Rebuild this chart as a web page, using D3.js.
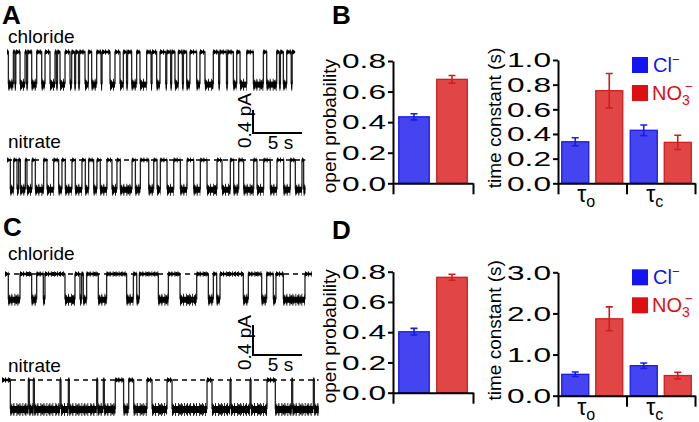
<!DOCTYPE html>
<html><head><meta charset="utf-8">
<script src="https://cdn.jsdelivr.net/npm/d3@7"></script>
<style>
body{margin:0;background:#fff}
svg text{font-family:"Liberation Sans",Arial,Helvetica,sans-serif}
</style></head><body>
<svg id="fig" width="699" height="422"></svg>
<script>
// ---------------- DATA ----------------
const anions = ["Cl", "NO3"];
const tauCategories = ["o", "c"];
const poTicks = [0, 0.2, 0.4, 0.6, 0.8];
const tauBTicks = [0, 0.2, 0.4, 0.6, 0.8, 1.0];
const tauDTicks = [0, 1, 2, 3];

const poB = [0.435, 0.68];
const poBErr = [0.02, 0.025];
const poD = [0.403, 0.763];
const poDErr = [0.022, 0.02];

const tauB_Cl = [0.337, 0.43];
const tauB_ClErr = [0.032, 0.043];
const tauB_NO3 = [0.751, 0.332];
const tauB_NO3Err = [0.14, 0.058];

const tauD_Cl = [0.52, 0.73];
const tauD_ClErr = [0.055, 0.065];
const tauD_NO3 = [1.87, 0.49];
const tauD_NO3Err = [0.29, 0.08];

// single-channel traces: open intervals [start s, end s], total duration (s), amplitude (pA)
const traceA_Cl = [[0.14,0.65],[0.8,0.9],[1.33,1.84],[2.0,2.1],[2.52,3.03],[3.54,3.88],[4.39,4.9],[5.05,5.15],[5.41,5.92],[6.43,6.6],[6.9,7.0],[7.3,7.4],[7.96,8.3],[8.64,9.15],[9.6,9.7],[10.51,11.02],[11.53,11.87],[12.2,12.3],[12.72,13.23],[13.57,14.25],[14.7,14.8],[15.27,15.61],[16.2,16.3],[16.7,16.8],[17.14,17.48],[17.9,18.0],[18.33,18.67],[19.35,19.69],[20.2,21.05],[21.6,21.7],[22.4,22.5],[23.1,23.44],[23.78,24.46],[25.14,26.16],[26.5,27.52],[27.8,27.9],[28.2,28.54],[29.0,29.1]];
const traceA_ClEnd = 29.4, traceA_ClAmp = 0.55;
const traceA_NO3 = [[0.34,0.68],[1.02,1.19],[1.36,1.87],[2.04,2.55],[2.89,3.74],[4.08,4.76],[5.27,5.61],[5.95,6.63],[6.97,7.65],[7.99,8.33],[8.84,9.18],[9.52,10.2],[10.71,11.22],[11.56,12.76],[13.1,13.61],[14.46,14.97],[15.31,15.65],[16.33,17.01],[17.69,18.37],[19.05,19.73],[20.41,21.43],[21.94,22.79],[23.13,23.64],[24.15,25.17],[25.51,26.19],[26.87,27.55],[28.23,28.91],[29.42,30.1],[30.27,30.44]];
const traceA_NO3End = 30.44, traceA_NO3Amp = 0.5;
const traceC_Cl = [[0.34,1.53],[2.72,3.23],[3.91,4.08],[6.12,7.14],[7.65,7.82],[7.99,8.33],[9.52,10.37],[12.41,13.1],[13.44,13.71],[15.65,16.67],[17.86,19.56],[20.75,21.26],[21.6,21.94],[24.32,24.83],[26.19,26.7],[27.38,27.65],[28.4,30.61]];
const traceC_ClEnd = 31.3, traceC_ClAmp = 0.33;
const traceC_NO3 = [[0.85,2.69],[2.79,3.2],[3.3,5.92],[6.02,6.77],[6.87,9.66],[9.76,10.34],[10.44,11.56],[12.41,12.93],[13.44,14.8],[15.31,16.84],[17.35,20.92],[21.43,23.27],[23.37,25.31],[25.41,27.04],[27.89,29.56],[29.66,31.77],[31.87,32.31]];
const traceC_NO3End = 32.31, traceC_NO3Amp = 0.38;

// ---------------- DRAWING ----------------
const svg = d3.select("#fig");
const BLUE_FILL = "#4444f0", BLUE_LINE = "#1b1be8";
const RED_FILL = "#e04646", RED_LINE = "#d01e1e";
const LEG_BLUE = "#1414f2", LEG_RED = "#dc1010";

function panelLetter(t, x, y) {
  svg.append("text").attr("x", x).attr("y", y).text(t)
    .attr("font-size", 26).attr("font-weight", "bold");
}
panelLetter("A", 2, 23.5); panelLetter("B", 332, 23.5);
panelLetter("C", 3, 236); panelLetter("D", 332, 239);

function label(t, x, y, size) {
  svg.append("text").attr("x", x).attr("y", y).text(t).attr("font-size", size || 19);
}
label("chloride", 8, 42.5); label("nitrate", 8, 148);
label("chloride", 8, 260); label("nitrate", 8, 372);

// ---- traces
function drawTrace(cfg, intervals, tEnd, amp) {
  const x = d3.scaleLinear().domain([0, tEnd]).range([cfg.x0, cfg.x0 + tEnd * cfg.pxPerSec]);
  const y = d3.scaleLinear().domain([0, -1]).range([cfg.yClosed, cfg.yClosed + cfg.pxPerPA]);
  const segs = []; let t = 0;
  intervals.forEach(([a, b]) => {
    if (a > t) segs.push({t0: t, t1: a, i: 0});
    segs.push({t0: a, t1: b, i: -amp});
    t = b;
  });
  if (t < tEnd) segs.push({t0: t, t1: tEnd, i: 0});
  const g = svg.append("g");
  if (cfg.dashed) {
    g.append("line").attr("x1", x(0)).attr("x2", x(tEnd)).attr("y1", y(0)).attr("y2", y(0))
      .attr("stroke", "#000").attr("stroke-width", 1.3).attr("stroke-dasharray", "5,4");
  }
  const pts = [];
  segs.forEach(s => { pts.push([s.t0, s.i]); pts.push([s.t1, s.i]); });
  g.append("path").attr("d", d3.line().x(d => x(d[0])).y(d => y(d[1]))(pts))
    .attr("fill", "none").attr("stroke", "#222").attr("stroke-width", 1.3);
  // level bands (solid core + ragged fringe)
  const lev = (sel, w, dash, col) => sel.append("g").selectAll("line").data(segs).join("line")
    .attr("x1", d => x(d.t0)).attr("x2", d => x(d.t1))
    .attr("y1", d => y(d.i) + (d.i === 0 ? 0 : 1)).attr("y2", d => y(d.i) + (d.i === 0 ? 0 : 1))
    .attr("stroke", col).attr("stroke-dasharray", dash)
    .attr("stroke-width", d => d.i === 0 ? w[0] : w[1]);
  lev(g, [cfg.wClosed + 3, cfg.wOpen + 6], "1,2", "#333");
  lev(g, [cfg.wClosed + 1.5, cfg.wOpen + 3], "2,1,1,3", "#111");
  lev(g, [cfg.wClosed, cfg.wOpen], null, "#000");
}
drawTrace({x0: 7, yClosed: 52, pxPerSec: 9.8, pxPerPA: 57.5, wClosed: 2.5, wOpen: 6, dashed: false}, traceA_Cl, traceA_ClEnd, traceA_ClAmp);
drawTrace({x0: 7, yClosed: 160, pxPerSec: 9.8, pxPerPA: 57.5, wClosed: 2, wOpen: 6, dashed: true}, traceA_NO3, traceA_NO3End, traceA_NO3Amp);
drawTrace({x0: 5, yClosed: 274, pxPerSec: 9.8, pxPerPA: 75, wClosed: 2.5, wOpen: 6, dashed: true}, traceC_Cl, traceC_ClEnd, traceC_ClAmp);
drawTrace({x0: 2, yClosed: 380, pxPerSec: 9.8, pxPerPA: 75, wClosed: 2.5, wOpen: 7, dashed: true}, traceC_NO3, traceC_NO3End, traceC_NO3Amp);

// ---- scale bars
function scaleBar(x0, yBottom, pxPerPA) {
  const g = svg.append("g");
  const sx = d3.scaleLinear().domain([0, 5]).range([x0, x0 + 49]);
  const sy = d3.scaleLinear().domain([0, 0.4]).range([yBottom, yBottom - 0.4 * pxPerPA]);
  g.append("path").attr("d", `M${sx(0)},${sy(0.4)}V${sy(0)}H${sx(5)}`)
    .attr("fill", "none").attr("stroke", "#000").attr("stroke-width", 2);
  g.append("text").attr("x", (sx(0) + sx(5)) / 2 + 3).attr("y", yBottom + 16)
    .attr("text-anchor", "middle").attr("font-size", 19).text("5 s");
  g.append("text").attr("transform", `translate(${x0 - 2},${yBottom + 15}) rotate(-90)`)
    .attr("font-size", 19).text("0.4 pA");
}
scaleBar(253, 133, 57.5);
scaleBar(253, 355, 75);

// ---- bar charts
function styleAxis(g) {
  g.selectAll("path,line").attr("stroke", "#000").attr("stroke-width", 2);
  g.selectAll("text").attr("font-size", 21).attr("fill", "#000")
    .attr("textLength", 44).attr("lengthAdjust", "spacingAndGlyphs");
}
function errBar(g, xc, y, v, e, col) {
  g.append("path").attr("d", `M${xc},${y(v + e)}V${y(v - e)}M${xc - 3.5},${y(v + e)}H${xc + 3.5}M${xc - 3.5},${y(v - e)}H${xc + 3.5}`)
    .attr("stroke", col).attr("stroke-width", 1.6).attr("fill", "none");
}
function poChart(top, bottom, vals, errs) {
  const g = svg.append("g");
  const y = d3.scaleLinear().domain([0, 0.8]).range([bottom, top]);
  const x = d3.scaleBand().domain(anions).range([393, 473]).paddingInner(0.197).paddingOuter(0.151);
  const cols = [[BLUE_FILL, BLUE_LINE], [RED_FILL, RED_LINE]];
  anions.forEach((a, i) => {
    g.append("rect").attr("x", x(a)).attr("y", y(vals[i])).attr("width", x.bandwidth())
      .attr("height", y(0) - y(vals[i])).attr("fill", cols[i][0]).attr("stroke", cols[i][1]).attr("stroke-width", 1.3);
    errBar(g, x(a) + x.bandwidth() / 2, y, vals[i], errs[i], cols[i][1]);
  });
  const ya = g.append("g").attr("transform", "translate(393,0)")
    .call(d3.axisLeft(y).tickValues(poTicks).tickFormat(d3.format(".1f")).tickSize(5).tickSizeOuter(0).tickPadding(2));
  styleAxis(ya);
  const xl = d3.scaleLinear().domain([0, 1]).range([393, 473]);
  const xa = g.append("g").attr("transform", `translate(0,${bottom})`)
    .call(d3.axisBottom(xl).tickValues([0, 1]).tickFormat("").tickSize(11).tickSizeOuter(0));
  styleAxis(xa);
  svg.append("text").attr("transform", `translate(336,${(top + bottom) / 2 + 4}) rotate(-90)`)
    .attr("text-anchor", "middle").attr("font-size", 19).text("open probability");
}
poChart(61, 183.3, poB, poBErr);
poChart(271.7, 392.7, poD, poDErr);

function tauChart(top, bottom, ymax, ticks, fmt, cl, clE, no, noE) {
  const g = svg.append("g");
  const y = d3.scaleLinear().domain([0, ymax]).range([bottom, top]);
  const gx = d3.scaleBand().domain(tauCategories).range([558, 695]);
  const sx = d3.scaleBand().domain(anions).range([0, gx.bandwidth()]).paddingInner(0.206).paddingOuter(0.11);
  tauCategories.forEach((c, j) => {
    const vals = [cl[j], no[j]], errs = [clE[j], noE[j]];
    const cols = [[BLUE_FILL, BLUE_LINE], [RED_FILL, RED_LINE]];
    anions.forEach((a, i) => {
      const bx = gx(c) + sx(a);
      g.append("rect").attr("x", bx).attr("y", y(vals[i])).attr("width", sx.bandwidth())
        .attr("height", y(0) - y(vals[i])).attr("fill", cols[i][0]).attr("stroke", cols[i][1]).attr("stroke-width", 1.3);
      errBar(g, bx + sx.bandwidth() / 2, y, vals[i], errs[i], cols[i][1]);
    });
    const t = g.append("text").attr("x", gx(c) + gx.bandwidth() / 2 - 6).attr("y", bottom + 19)
      .attr("text-anchor", "middle").attr("font-size", 23);
    t.append("tspan").text("τ");
    t.append("tspan").text(c).attr("font-size", 16).attr("dy", 5);
  });
  const ya = g.append("g").attr("transform", "translate(558,0)")
    .call(d3.axisLeft(y).tickValues(ticks).tickFormat(d3.format(fmt)).tickSize(5).tickSizeOuter(0).tickPadding(2));
  styleAxis(ya);
  const xl = d3.scaleLinear().domain([0, tauCategories.length]).range([558, 695]);
  const xa = g.append("g").attr("transform", `translate(0,${bottom})`)
    .call(d3.axisBottom(xl).tickValues([0, 1, 2]).tickFormat("").tickSize(11).tickSizeOuter(0));
  styleAxis(xa);
  svg.append("text").attr("transform", `translate(501,${top + 58}) rotate(-90)`)
    .attr("text-anchor", "middle").attr("font-size", 19).text("time constant (s)");
  // legend
  const ly = top - 3;
  g.append("rect").attr("x", 632).attr("y", ly).attr("width", 16).attr("height", 16).attr("fill", LEG_BLUE);
  g.append("rect").attr("x", 632).attr("y", ly + 28).attr("width", 16).attr("height", 16).attr("fill", LEG_RED);
  const t1 = g.append("text").attr("x", 653).attr("y", ly + 15).attr("font-size", 20).attr("fill", LEG_BLUE);
  t1.append("tspan").text("Cl");
  t1.append("tspan").text("−").attr("font-size", 13).attr("dy", -8);
  const t2 = g.append("text").attr("x", 652).attr("y", ly + 43).attr("font-size", 20).attr("fill", LEG_RED);
  t2.append("tspan").text("NO");
  t2.append("tspan").text("3").attr("font-size", 14).attr("dy", 5);
  g.append("text").attr("x", 685).attr("y", ly + 34).attr("font-size", 13).attr("fill", LEG_RED).text("−");
}
tauChart(60, 183.3, 1.0, tauBTicks, ".1f", tauB_Cl, tauB_ClErr, tauB_NO3, tauB_NO3Err);
tauChart(272.3, 395.7, 3.0, tauDTicks, ".1f", tauD_Cl, tauD_ClErr, tauD_NO3, tauD_NO3Err);
</script>
</body></html>
